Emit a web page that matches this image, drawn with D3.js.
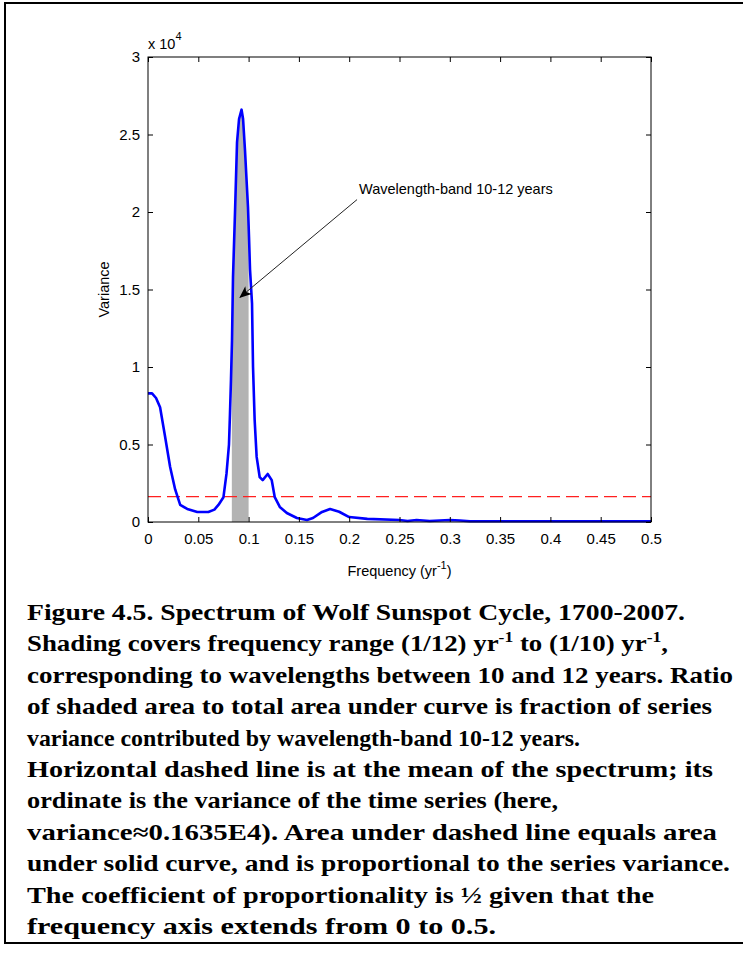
<!DOCTYPE html>
<meta charset="utf-8">
<body style="margin:0;background:#fff">
<script src="https://d3js.org/d3.v7.min.js"></script>
<script>
    // spectrum (variance in units of 1e4)
    var freq = [0, 0.004, 0.008, 0.012, 0.017, 0.022, 0.027, 0.032, 0.039, 0.049,
        0.06, 0.066, 0.07, 0.075, 0.078, 0.0805, 0.0815, 0.0825, 0.0835, 0.0845,
        0.0865, 0.0885, 0.0905, 0.093, 0.0945, 0.0964, 0.0994, 0.1004, 0.1014, 0.1034,
        0.1044, 0.106, 0.108, 0.111, 0.114, 0.119, 0.123, 0.126, 0.131, 0.138,
        0.148, 0.158, 0.164, 0.173, 0.181, 0.19, 0.2, 0.218, 0.25, 0.258,
        0.267, 0.28, 0.3, 0.31, 0.32, 0.35, 0.5];
    var variance = [0.83, 0.83, 0.80, 0.74, 0.55, 0.355, 0.21, 0.11, 0.084, 0.065,
        0.065, 0.08, 0.11, 0.16, 0.31, 0.5, 0.7, 0.92, 1.17, 1.58,
        2.0, 2.45, 2.6, 2.66, 2.6, 2.4, 2.03, 1.84, 1.63, 1.41,
        1.0, 0.66, 0.42, 0.29, 0.27, 0.31, 0.27, 0.16, 0.097, 0.058,
        0.026, 0.013, 0.026, 0.065, 0.084, 0.066, 0.032, 0.02, 0.013, 0.006,
        0.013, 0.006, 0.013, 0.01, 0.005, 0.005, 0.005];
    var meanVariance = 0.1635;
    var band = [1 / 12, 1 / 10];
    var xTicks = [0, 0.05, 0.1, 0.15, 0.2, 0.25, 0.3, 0.35, 0.4, 0.45, 0.5];
    var yTicks = [0, 0.5, 1, 1.5, 2, 2.5, 3];
    var note = {text: 'Wavelength-band 10-12 years', from: [0.2078, 2.08], to: [0.0915, 1.45]};
    var caption = [
        ['Figure 4.5.  Spectrum of Wolf Sunspot Cycle, 1700-2007.'],
        ['Shading covers frequency range (1/12) yr', '-1', ' to (1/10) yr', '-1', ','],
        ['corresponding to wavelengths between 10 and 12 years.  Ratio'],
        ['of shaded area to total area under curve is fraction of series'],
        ['variance contributed by wavelength-band 10-12 years.'],
        ['Horizontal dashed line is at the mean of the spectrum; its'],
        ['ordinate is the variance of the time series (here,'],
        ['variance\u22480.1635E4).  Area under dashed line equals area'],
        ['under solid curve, and is proportional to the series variance.'],
        ['The coefficient of proportionality is \u00bd given that the'],
        ['frequency axis extends from 0 to 0.5.']
    ];
    var captionWidths = [658, 641, 706, 685, 553, 686, 531, 690, 703, 627, 469];

    var width = 743, height = 955;
    var margin = {top: 57, left: 148, right: 92, bottom: 433};
    var w = width - margin.left - margin.right,
        h = height - margin.top - margin.bottom;

    var svg = d3.select('body').append('svg')
        .attr('width', width)
        .attr('height', height)
        .style('display', 'block');

    svg.append('rect')
        .attr('x', 5).attr('y', 3)
        .attr('width', 745).attr('height', 940)
        .attr('fill', 'none')
        .attr('stroke', '#000')
        .attr('stroke-width', 2);

    var x = d3.scaleLinear().domain([0, 0.5]).range([0, w]);
    var y = d3.scaleLinear().domain([0, 3]).range([h, 0]);

    var g = svg.append('g')
        .attr('transform', `translate(${margin.left},${margin.top})`);

    var pts = freq.map((f, i) => [f, variance[i]]);

    // shaded band under the curve
    g.append('clipPath').attr('id', 'bandclip')
        .append('rect')
        .attr('x', x(band[0])).attr('y', 0)
        .attr('width', x(band[1]) - x(band[0])).attr('height', h);

    g.append('path')
        .datum(pts)
        .attr('clip-path', 'url(#bandclip)')
        .attr('fill', '#b3b3b3')
        .attr('d', d3.area().x(d => x(d[0])).y0(h).y1(d => y(d[1])));

    // mean line
    g.append('line')
        .attr('x1', 0).attr('x2', w)
        .attr('y1', y(meanVariance)).attr('y2', y(meanVariance))
        .attr('stroke', '#ff2020')
        .attr('stroke-width', 1.3)
        .attr('stroke-dasharray', '13,6');

    g.append('path')
        .datum(pts)
        .attr('fill', 'none')
        .attr('stroke', '#0000ff')
        .attr('stroke-width', 2.6)
        .attr('stroke-linejoin', 'round')
        .attr('d', d3.line().x(d => x(d[0])).y(d => y(d[1])));

    // axes (MATLAB style box with inward ticks)
    var fmt = d => d === 0 ? '0' : String(d);
    var font = 'Liberation Sans, Arial, sans-serif';
    function styleAxis(sel) {
        sel.select('.domain').remove();
        sel.selectAll('line').attr('stroke', '#000');
        sel.selectAll('text').attr('fill', '#000')
            .attr('font-family', font).attr('font-size', '15px');
    }
    g.append('g').attr('transform', `translate(0,${h})`)
        .call(d3.axisBottom(x).tickValues(xTicks).tickFormat(fmt).tickSize(-5).tickPadding(11))
        .call(styleAxis);
    g.append('g')
        .call(d3.axisTop(x).tickValues(xTicks).tickFormat('').tickSize(-5))
        .call(styleAxis);
    g.append('g')
        .call(d3.axisLeft(y).tickValues(yTicks).tickFormat(fmt).tickSize(-5).tickPadding(8))
        .call(styleAxis);
    g.append('g').attr('transform', `translate(${w},0)`)
        .call(d3.axisRight(y).tickValues(yTicks).tickFormat('').tickSize(-5))
        .call(styleAxis);

    g.append('rect')
        .attr('width', w).attr('height', h)
        .attr('fill', 'none')
        .attr('stroke', '#000')
        .attr('stroke-width', 1);

    // exponent label
    var ex = g.append('text')
        .attr('x', 0).attr('y', -8)
        .attr('font-family', font).attr('font-size', '14.5px');
    ex.append('tspan').text('x 10');
    ex.append('tspan').attr('dy', -9).attr('font-size', '11px').text('4');

    g.append('text')
        .attr('transform', `translate(-39,${h / 2}) rotate(-90)`)
        .attr('text-anchor', 'middle')
        .attr('font-family', font).attr('font-size', '14.5px')
        .text('Variance');

    var xl = g.append('text')
        .attr('x', w / 2).attr('y', h + 54)
        .attr('text-anchor', 'middle')
        .attr('font-family', font).attr('font-size', '14.5px');
    xl.append('tspan').text('Frequency (yr');
    xl.append('tspan').attr('dy', -7).attr('font-size', '11px').text('-1');
    xl.append('tspan').attr('dy', 7).text(')');

    // annotation arrow
    svg.append('defs').append('marker')
        .attr('id', 'head')
        .attr('viewBox', '0 0 12 10')
        .attr('refX', 11).attr('refY', 5)
        .attr('markerWidth', 13).attr('markerHeight', 10)
        .attr('markerUnits', 'userSpaceOnUse')
        .attr('orient', 'auto')
        .append('path')
        .attr('d', 'M0,0 L12,5 L0,10 L3,5 Z')
        .attr('fill', '#000');

    g.append('line')
        .attr('x1', x(note.from[0])).attr('y1', y(note.from[1]))
        .attr('x2', x(note.to[0])).attr('y2', y(note.to[1]))
        .attr('stroke', '#222')
        .attr('stroke-width', 1)
        .attr('marker-end', 'url(#head)');

    g.append('text')
        .attr('x', x(note.from[0]) + 2).attr('y', y(note.from[1]) - 6)
        .attr('font-family', font).attr('font-size', '14.5px')
        .text(note.text);

    // caption
    var cap = svg.append('g');
    caption.forEach((parts, i) => {
        var t = cap.append('text')
            .attr('x', 27)
            .attr('y', 620 + i * 31.4)
            .attr('font-family', "'Liberation Serif', 'Times New Roman', Times, serif")
            .attr('font-weight', 'bold')
            .attr('font-size', '23px')
            .attr('textLength', captionWidths[i])
            .attr('lengthAdjust', 'spacingAndGlyphs');
        parts.forEach((p, k) => {
            var sup = p === '-1';
            t.append('tspan')
                .attr('dy', sup ? -9 : (k > 0 ? 9 : 0))
                .attr('font-size', sup ? '15px' : null)
                .text(p);
        });
    });
</script>
</body>
</html>
